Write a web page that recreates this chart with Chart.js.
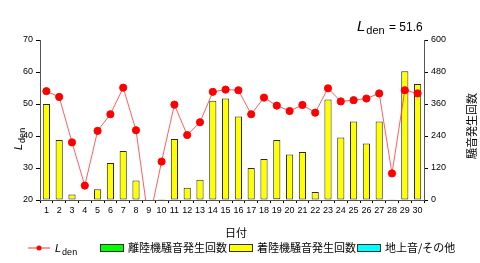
<!DOCTYPE html>
<html><head><meta charset="utf-8">
<script src="https://cdn.jsdelivr.net/npm/chart.js@4/dist/chart.umd.min.js"></script>
<style>html,body{margin:0;padding:0;background:#fff}#wrap{width:480px;height:263px;position:relative}</style>
</head><body><div id="wrap"><canvas id="c" width="480" height="263"></canvas></div>
<script>
const days = ['1','2','3','4','5','6','7','8','9','10','11','12','13','14','15','16','17','18','19','20','21','22','23','24','25','26','27','28','29','30'];
const lden = [54.0,52.2,38.0,24.5,41.6,46.8,55.1,41.8,13.0,32.0,49.8,40.3,44.3,53.8,54.5,54.3,46.8,52.0,49.5,47.8,49.7,47.3,54.9,50.8,51.2,51.7,53.3,28.3,54.3,53.3];
const departures = [0,0,0,0,0,0,0,0,0,1,0,0,0,0,0,0,0,0,3,0,0,0,0,0,0,0,0,1,0,0];
const arrivals = [360,225,21,0,40,139,184,73,0,1,229,46,76,372,381,313,120,154,222,171,180,30,377,234,294,212,294,0,483,435];
const ground = [0,0,0,0,0,0,0,0,0,0,0,0,0,0,0,0,0,0,0,0,0,0,0,0,0,0,0,0,0,0];
const leftTicks = [20,30,40,50,60,70];
const rightTicks = [0,120,240,360,480,600];
const ldenMonthly = '51.6';

const FONT = '"Liberation Sans", Arial, sans-serif';
const JFONT = '"Noto Sans CJK JP", sans-serif';

function drawLden(ctx, x, y, size, subSize) {
  ctx.font = 'italic ' + size + 'px ' + FONT;
  ctx.textBaseline = 'alphabetic';
  ctx.textAlign = 'left';
  ctx.fillText('L', x, y);
  const w = ctx.measureText('L').width;
  ctx.font = subSize + 'px ' + FONT;
  ctx.fillText('den', x + w + 1, y + 3);
  return x + w + 1 + ctx.measureText('den').width;
}

const textPlugin = {
  id: 'texts',
  afterDraw(chart) {
    const ctx = chart.ctx;
    ctx.save();
    ctx.fillStyle = '#000';
    let ex = drawLden(ctx, 357, 31, 15, 11);
    ctx.font = '12px ' + FONT;
    ctx.fillText(' = ' + ldenMonthly, ex + 1, 31);
    ctx.save();
    ctx.translate(22, 150);
    ctx.rotate(-Math.PI / 2);
    drawLden(ctx, 0, 0, 11, 9);
    ctx.restore();
    ctx.save();
    ctx.translate(472, 126);
    ctx.rotate(-Math.PI / 2);
    ctx.font = '11px ' + JFONT;
    ctx.textAlign = 'center';
    ctx.textBaseline = 'middle';
    ctx.fillText('騒音発生回数', 0, 0);
    ctx.restore();
    ctx.font = '11px ' + JFONT;
    ctx.textAlign = 'center';
    ctx.textBaseline = 'middle';
    ctx.fillText('日付', 236, 233);
    const ly = 249;
    ctx.strokeStyle = '#ff3030';
    ctx.lineWidth = 1;
    ctx.beginPath(); ctx.moveTo(28, ly - 1); ctx.lineTo(50, ly - 1); ctx.stroke();
    ctx.fillStyle = '#ff0000';
    ctx.beginPath(); ctx.arc(39, ly - 1, 2.5, 0, Math.PI * 2); ctx.fill();
    ctx.fillStyle = '#000';
    drawLden(ctx, 55, ly + 3, 11, 9);
    const items = [
      {x: 100, c: '#00ff00', t: '離陸機騒音発生回数'},
      {x: 229, c: '#ffff00', t: '着陸機騒音発生回数'},
      {x: 357, c: '#00ffff', t: '地上音/その他'}
    ];
    items.forEach(it => {
      ctx.fillStyle = it.c;
      ctx.fillRect(it.x, ly - 5, 23, 7);
      ctx.strokeStyle = '#333';
      ctx.strokeRect(it.x + 0.5, ly - 4.5, 23, 7);
      ctx.fillStyle = '#000';
      ctx.font = '11px ' + JFONT;
      ctx.textAlign = 'left';
      ctx.textBaseline = 'middle';
      ctx.fillText(it.t, it.x + 28, ly - 1);
    });
    ctx.restore();
  }
};

const barCommon = {type: 'bar', yAxisID: 'y1', borderColor: '#2a2a2a', borderWidth: 1, borderSkipped: false, categoryPercentage: 1, barPercentage: 0.56, stack: 's', order: 1};

new Chart(document.getElementById('c'), {
  data: {
    labels: days,
    datasets: [
      {type: 'line', label: 'Lden', data: lden, yAxisID: 'y', borderColor: 'rgba(255,40,40,0.75)', borderWidth: 1,
       pointBackgroundColor: '#ff0000', pointBorderColor: '#ff0000', pointRadius: 3.6, order: 0},
      Object.assign({label: '離陸機騒音発生回数', data: departures, backgroundColor: '#00ff00'}, barCommon),
      Object.assign({label: '着陸機騒音発生回数', data: arrivals, backgroundColor: '#ffff00'}, barCommon),
      Object.assign({label: '地上音/その他', data: ground, backgroundColor: '#00ffff'}, barCommon)
    ]
  },
  options: {
    responsive: false, animation: false,
    layout: {padding: {top: 40, bottom: 43, left: 0, right: 0}},
    plugins: {legend: {display: false}, tooltip: {enabled: false}},
    scales: {
      x: {
        stacked: true,
        grid: {display: true, drawOnChartArea: false, tickLength: 3, color: '#000'},
        border: {color: '#555'},
        ticks: {color: '#000', font: {family: FONT, size: 9}, padding: 2, maxRotation: 0, autoSkip: false},
        afterFit(s) { s.height = 20; }
      },
      y: {
        position: 'left', min: 20, max: 70,
        afterBuildTicks(s) { s.ticks = leftTicks.map(v => ({value: v})); },
        grid: {display: true, drawOnChartArea: false, tickLength: 4, color: '#000'},
        border: {color: '#555'},
        ticks: {color: '#000', font: {family: FONT, size: 9}, padding: 3},
        afterFit(s) { s.width = 40; }
      },
      y1: {
        position: 'right', min: 0, max: 600, stacked: true,
        afterBuildTicks(s) { s.ticks = rightTicks.map(v => ({value: v})); },
        grid: {display: true, drawOnChartArea: false, tickLength: 4, color: '#000'},
        border: {color: '#555'},
        ticks: {color: '#000', font: {family: FONT, size: 9}, padding: 3},
        afterFit(s) { s.width = 56; }
      }
    }
  },
  plugins: [textPlugin]
});
</script></body></html>
